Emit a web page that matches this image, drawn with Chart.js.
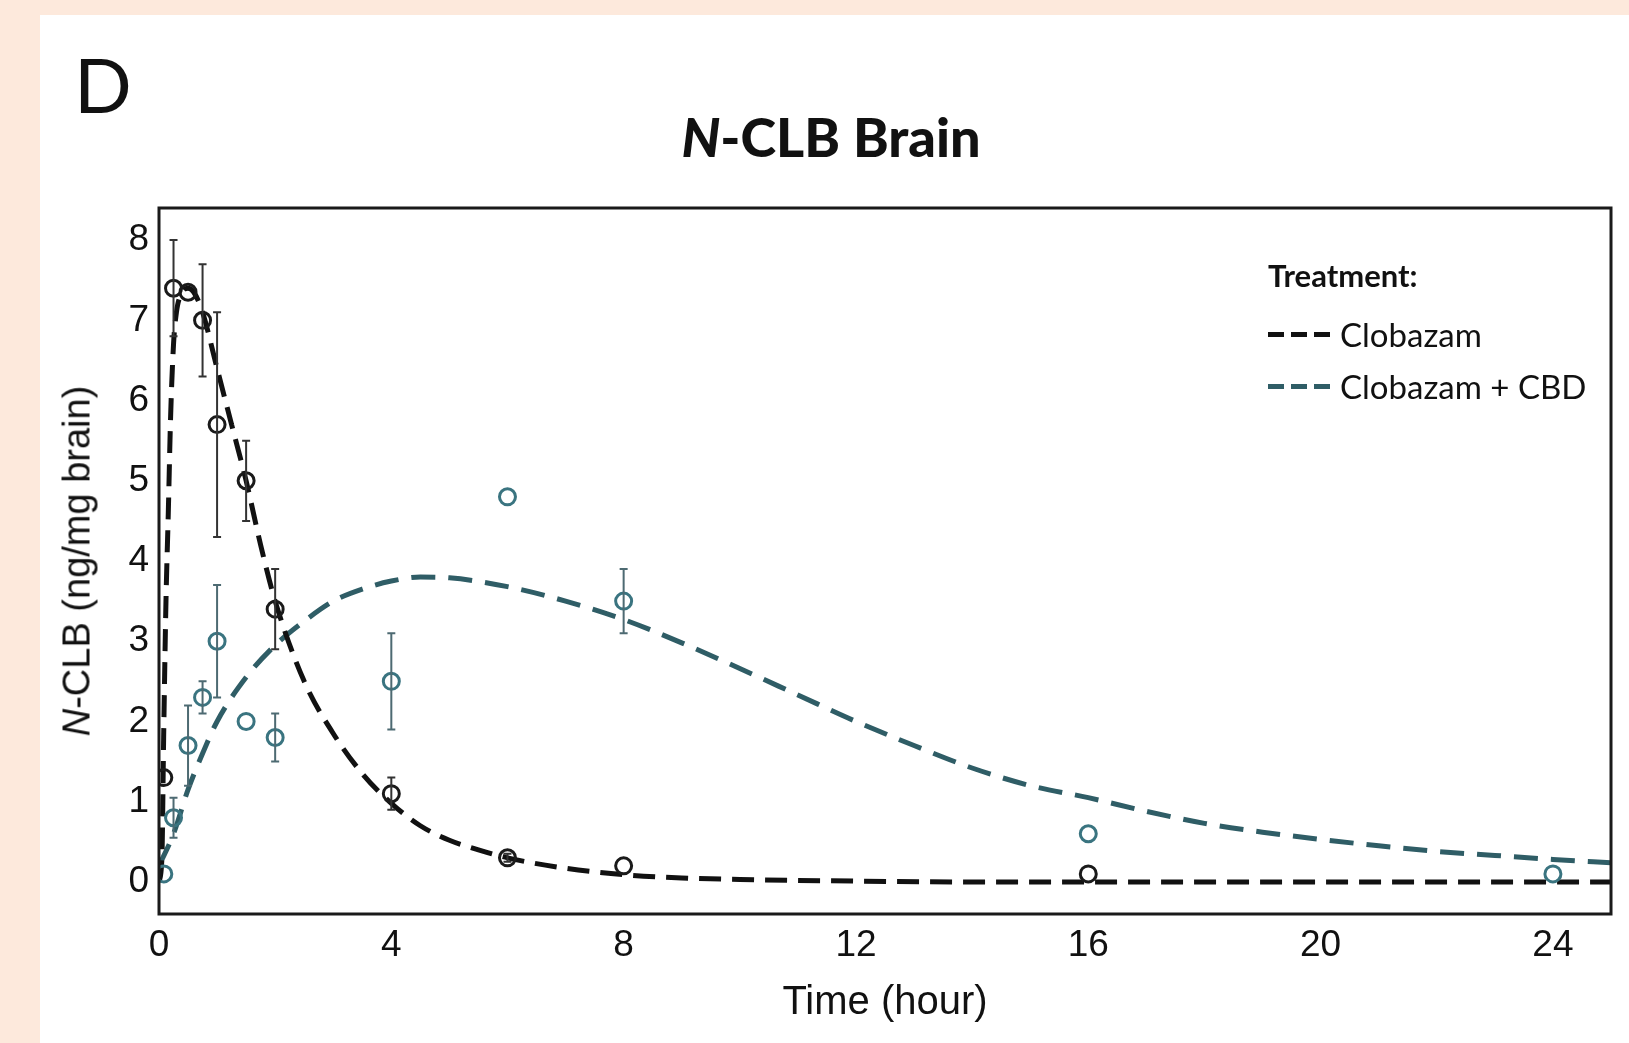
<!DOCTYPE html>
<html>
<head>
<meta charset="utf-8">
<script src="https://cdn.jsdelivr.net/npm/chart.js@4.4.1/dist/chart.umd.min.js"></script>
<style>
    body { margin: 0; background: #fde9dc; width: 1629px; height: 1043px; overflow: hidden; position: relative; }
    #panel { position: absolute; left: 40px; top: 15px; right: 0; bottom: 0; background: #fff; }
    #wrap { position: absolute; left: 0; top: 0; width: 1629px; height: 1043px; }
    .txt { position: absolute; white-space: nowrap; color: #111; }
    #letter { left: 74px; top: 38px; font: 400 76px Lato, sans-serif; }
    #title { left: 831px; top: 104px; transform: translateX(-50%); font: 900 54px Lato, sans-serif; }
    #ytitle { left: 77px; top: 561px; transform: translate(-50%, -50%) rotate(-90deg); font: 400 38px "Liberation Sans", sans-serif; }
    #xtitle { left: 885px; top: 978px; transform: translateX(-50%); font: 400 40px "Liberation Sans", sans-serif; }
    #legend { left: 1268px; top: 256px; font: 400 33px Lato, sans-serif; }
    #legend .head { font-weight: 700; font-size: 31px; margin-bottom: 14px; }
    #legend .row { height: 52px; display: flex; align-items: center; }
    #legend .dash { width: 62px; height: 5px; margin-right: 10px;
        background: repeating-linear-gradient(90deg, var(--c) 0 16px, transparent 16px 23px); }
</style>
</head>
<body>
<div id="panel"></div>
<div id="wrap"><canvas id="pkChart" width="1629" height="1043"></canvas></div>
<div class="txt" id="letter">D</div>
<div class="txt" id="title"><i>N</i>-CLB Brain</div>
<div class="txt" id="ytitle"><i>N</i>-CLB (ng/mg brain)</div>
<div class="txt" id="xtitle">Time (hour)</div>
<div class="txt" id="legend">
    <div class="head">Treatment:</div>
    <div class="row"><span class="dash" style="--c:#111"></span>Clobazam</div>
    <div class="row"><span class="dash" style="--c:#2f5d66"></span>Clobazam + CBD</div>
</div>
<script>
// observed means (+/- error) at each sampling time
const times = [0.083, 0.25, 0.5, 0.75, 1, 1.5, 2, 4, 6, 8, 16, 24];
const clobazamMean = [1.3, 7.4, 7.35, 7.0, 5.7, 5.0, 3.4, 1.1, 0.3, 0.2, 0.1, null];
const clobazamErr = [0, 0.6, 0, 0.7, 1.4, 0.5, 0.5, 0.2, 0.05, 0, 0, 0];
const cbdMean = [0.1, 0.8, 1.7, 2.3, 3.0, 2.0, 1.8, 2.5, 4.8, 3.5, 0.6, 0.1];
const cbdErr = [0, 0.25, 0.5, 0.2, 0.7, 0, 0.3, 0.6, 0, 0.4, 0, 0];

// fitted curves
const fitClobazamT = [0, 0.05, 0.08, 0.12, 0.16, 0.2, 0.25, 0.3, 0.4, 0.5, 0.6, 0.75, 1, 1.25, 1.5, 1.75, 2, 2.5, 3, 3.5, 4, 4.5, 5, 5.5, 6, 7, 8, 9, 10, 12, 14, 25];
const fitClobazam = [0, 0.3, 1.8, 3.5, 4.6, 5.8, 6.7, 7.1, 7.35, 7.4, 7.35, 7.1, 6.4, 5.7, 5.0, 4.2, 3.5, 2.5, 1.85, 1.35, 0.98, 0.7, 0.52, 0.4, 0.3, 0.17, 0.09, 0.05, 0.03, 0.01, 0, 0];
const fitCbdT = [0, 0.25, 0.5, 0.75, 1, 1.5, 2, 2.5, 3, 3.5, 4, 4.5, 5, 6, 7, 8, 9, 10, 11, 12, 13, 14, 15, 16, 17, 18, 19, 20, 21, 22, 23, 24, 25];
const fitCbd = [0.2, 0.6, 1.15, 1.6, 2.0, 2.55, 2.95, 3.25, 3.5, 3.65, 3.75, 3.8, 3.79, 3.68, 3.5, 3.27, 2.98, 2.66, 2.33, 2.0, 1.7, 1.42, 1.2, 1.05, 0.88, 0.73, 0.62, 0.53, 0.45, 0.38, 0.33, 0.28, 0.24];

const xTicks = [0, 4, 8, 12, 16, 20, 24];
const yTicks = [0, 1, 2, 3, 4, 5, 6, 7, 8];

const toXY = (xs, ys) => xs.map((x, i) => ({ x: x, y: ys[i] })).filter(p => p.y !== null);

const errorBars = {
    id: 'errorBars',
    afterDatasetsDraw(chart) {
        const ctx = chart.ctx;
        const xs = chart.scales.x, ys = chart.scales.y;
        const sets = [[clobazamMean, clobazamErr, '#333'], [cbdMean, cbdErr, '#4d6a72']];
        ctx.save();
        ctx.lineWidth = 2;
        sets.forEach(([m, e, col]) => {
            ctx.strokeStyle = col;
            times.forEach((t, i) => {
                if (m[i] === null || !e[i]) return;
                const px = xs.getPixelForValue(t);
                const top = ys.getPixelForValue(m[i] + e[i]);
                const bot = ys.getPixelForValue(m[i] - e[i]);
                ctx.beginPath();
                ctx.moveTo(px, top); ctx.lineTo(px, bot);
                ctx.moveTo(px - 4, top); ctx.lineTo(px + 4, top);
                ctx.moveTo(px - 4, bot); ctx.lineTo(px + 4, bot);
                ctx.stroke();
            });
        });
        // frame round the plot
        const a = chart.chartArea;
        ctx.strokeStyle = '#1a1a1a';
        ctx.lineWidth = 3;
        ctx.strokeRect(a.left, a.top, a.right - a.left, a.bottom - a.top);
        ctx.restore();
    }
};

const ctx = document.getElementById('pkChart').getContext('2d');
new Chart(ctx, {
    type: 'scatter',
    data: {
        datasets: [
            {
                label: 'Clobazam',
                data: toXY(times, clobazamMean),
                pointRadius: 8,
                pointBorderWidth: 3,
                pointBorderColor: '#1a1a1a',
                pointBackgroundColor: 'rgba(0,0,0,0)',
                showLine: false
            },
            {
                label: 'Clobazam + CBD',
                data: toXY(times, cbdMean),
                pointRadius: 8,
                pointBorderWidth: 3,
                pointBorderColor: '#3a7480',
                pointBackgroundColor: 'rgba(0,0,0,0)',
                showLine: false
            },
            {
                label: 'Clobazam fit',
                data: toXY(fitClobazamT, fitClobazam),
                showLine: true,
                borderColor: '#111',
                borderWidth: 5,
                borderDash: [22, 11],
                pointRadius: 0,
                cubicInterpolationMode: 'monotone'
            },
            {
                label: 'Clobazam + CBD fit',
                data: toXY(fitCbdT, fitCbd),
                showLine: true,
                borderColor: '#2f5d66',
                borderWidth: 5,
                borderDash: [24, 13],
                pointRadius: 0,
                cubicInterpolationMode: 'monotone'
            }
        ]
    },
    options: {
        responsive: false,
        animation: false,
        layout: { padding: { left: 0, right: 18, top: 208, bottom: 69 } },
        plugins: {
            legend: { display: false },
            tooltip: { enabled: false }
        },
        scales: {
            x: {
                type: 'linear',
                min: 0,
                max: 25,
                afterBuildTicks: s => { s.ticks = xTicks.map(v => ({ value: v })); },
                afterFit: s => { s.height = 60; },
                grid: { display: false, drawTicks: false },
                border: { display: false },
                ticks: { color: '#111', padding: 10, font: { family: 'Liberation Sans', size: 37 } }
            },
            y: {
                type: 'linear',
                min: -0.4,
                max: 8.4,
                afterBuildTicks: s => { s.ticks = yTicks.map(v => ({ value: v })); },
                afterFit: s => { s.width = 159; },
                grid: { display: false, drawTicks: false },
                border: { display: false },
                ticks: { color: '#111', padding: 10, font: { family: 'Liberation Sans', size: 37 } }
            }
        }
    },
    plugins: [errorBars]
});
</script>
</body>
</html>
